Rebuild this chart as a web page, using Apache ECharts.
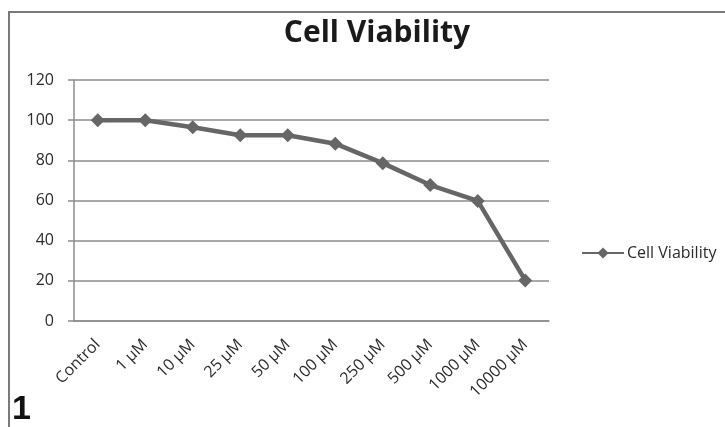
<!DOCTYPE html>
<html>
<head>
<meta charset="utf-8">
<script src="https://cdn.jsdelivr.net/npm/echarts@6/dist/echarts.min.js"></script>
<style>
  html, body { margin: 0; padding: 0; background: #fff; }
  #chart { width: 725px; height: 427px; }
</style>
</head>
<body>
<div id="chart"></div>
<script>
// concentrations along the x axis
const doses = ["Control", "1 µM", "10 µM", "25 µM", "50 µM", "100 µM", "250 µM", "500 µM", "1000 µM", "10000 µM"];
// viability (%)
const viability = [100, 100, 96.5, 92.5, 92.5, 88.3, 78.6, 67.7, 59.8, 20.2];
const yTicks = [0, 20, 40, 60, 80, 100, 120];

const chart = echarts.init(document.getElementById("chart"));

const axisGray = "#8c8c8c";
const seriesGray = "#666666";
const textColor = "#2b2b2b";
const font = "Open Sans";

chart.setOption({
  animation: false,
  backgroundColor: "#fff",
  title: {
    text: "Cell Viability",
    left: 372,
    top: 13,
    textAlign: "center",
    textStyle: { fontFamily: font, fontSize: 30, fontWeight: "bold", color: "#1a1a1a" }
  },
  legend: {
    left: 576,
    top: 240,
    itemWidth: 42,
    itemHeight: 14,
    itemGap: 4,
    textStyle: { fontFamily: font, fontSize: 16, color: textColor, padding: [0, 0, 0, -2] },
    data: ["Cell Viability"]
  },
  grid: { left: 74, right: 176, top: 80, bottom: 106 },
  xAxis: {
    type: "category",
    data: doses,
    boundaryGap: true,
    axisLine: { lineStyle: { color: axisGray, width: 1.5 } },
    axisTick: { length: 5, lineStyle: { color: axisGray, width: 1.5 } },
    axisLabel: { rotate: 45, interval: 0, margin: 21, fontFamily: font, fontSize: 16, color: textColor }
  },
  yAxis: {
    type: "value",
    min: yTicks[0],
    max: yTicks[yTicks.length - 1],
    interval: 20,
    axisLine: { show: true, lineStyle: { color: axisGray, width: 1.5 } },
    axisTick: { show: true, length: 6, lineStyle: { color: axisGray, width: 1.5 } },
    axisLabel: { margin: 20, fontFamily: font, fontSize: 16, color: textColor },
    splitLine: { lineStyle: { color: axisGray, width: 1.5 } }
  },
  series: [
    {
      name: "Cell Viability",
      type: "line",
      data: viability,
      symbol: "diamond",
      symbolSize: 14,
      lineStyle: { color: seriesGray, width: 4.5 },
      itemStyle: { color: seriesGray }
    }
  ],
  graphic: [
    {
      type: "polyline",
      shape: { points: [[9, 427], [9, 12], [725, 12]] },
      style: { stroke: "#7a7a7a", lineWidth: 2, fill: null }
    },
    {
      type: "text",
      left: 12,
      top: 393,
      style: { text: "1", fontFamily: "Liberation Sans", fontSize: 34, fontWeight: "bold", fill: "#111" }
    }
  ]
});
</script>
</body>
</html>
